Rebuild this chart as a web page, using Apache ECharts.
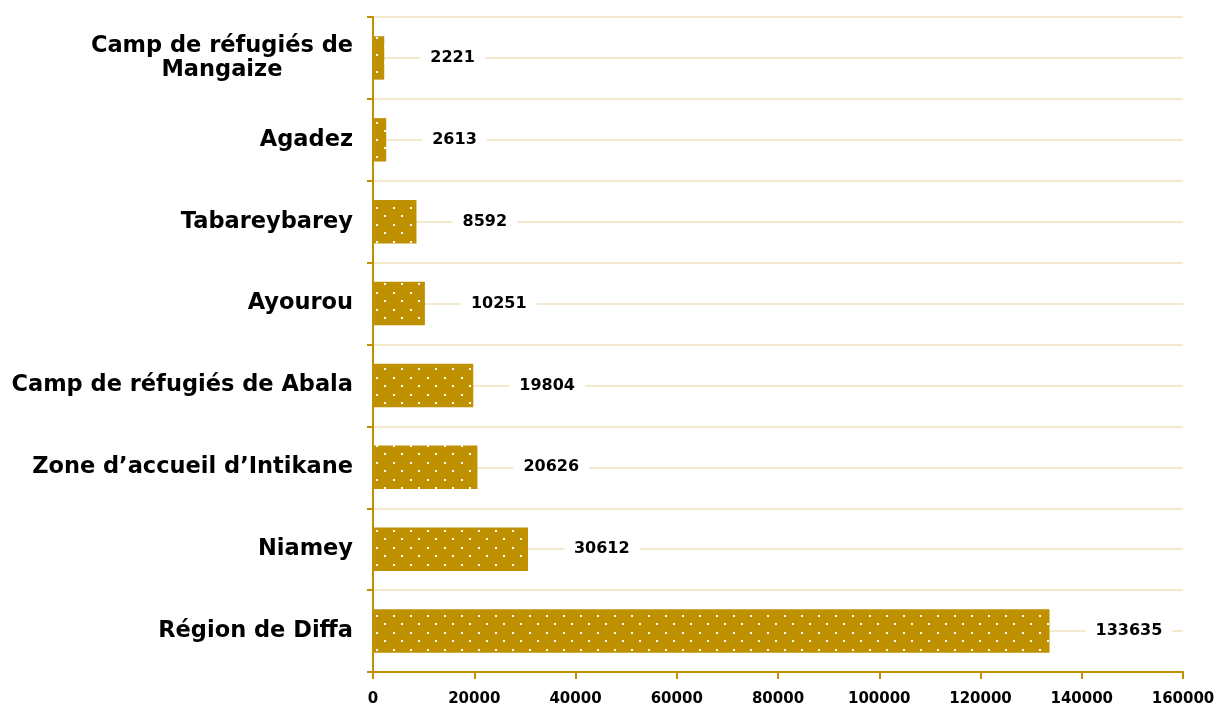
<!DOCTYPE html>
<html>
<head>
<meta charset="utf-8">
<script src="https://cdn.jsdelivr.net/npm/echarts@6/dist/echarts.min.js"></script>
<style>
  html, body { margin: 0; padding: 0; background: #fff; }
  #main { width: 1219px; height: 707px; }
</style>
</head>
<body>
<div id="main"></div>
<script>
// bottom to top, as the category axis draws them
var categories = [
    'Région de Diffa',
    'Niamey',
    'Zone d’accueil d’Intikane',
    'Camp de réfugiés de Abala',
    'Ayourou',
    'Tabareybarey',
    'Agadez',
    'Camp de réfugiés de\nMangaize'
];
var values = [133635, 30612, 20626, 19804, 10251, 8592, 2613, 2221];
var xTicks = { min: 0, max: 160000, interval: 20000 };

var gold = '#bf9000';
var cream = '#f3e9cc';

// gold fill with white staggered dots
function dotPattern() {
    var c = document.createElement('canvas');
    c.width = 17;
    c.height = 17;
    var ctx = c.getContext('2d');
    ctx.fillStyle = gold;
    ctx.fillRect(0, 0, 17, 17);
    ctx.fillStyle = '#ffffff';
    ctx.fillRect(2, 3, 2, 2);
    ctx.fillRect(10, 11, 2, 2);
    return c;
}

var labelFont = '"DejaVu Sans", sans-serif';

var chart = echarts.init(document.getElementById('main'));

var option = {
    animation: false,
    grid: {
        left: 373,
        right: 36,
        top: 17,
        bottom: 35
    },
    xAxis: {
        type: 'value',
        min: xTicks.min,
        max: xTicks.max,
        interval: xTicks.interval,
        axisLine: { show: true, lineStyle: { color: gold, width: 2 } },
        axisTick: { show: true, length: 7, lineStyle: { color: gold, width: 2 } },
        splitLine: { show: false },
        axisLabel: {
            color: '#000',
            fontFamily: labelFont,
            fontWeight: 'bold',
            fontSize: 15,
            margin: 20,
            formatter: function (v) { return String(v); }
        }
    },
    yAxis: {
        type: 'category',
        data: categories,
        axisLine: { show: true, lineStyle: { color: gold, width: 2 } },
        axisTick: { show: true, length: 6, lineStyle: { color: gold, width: 2 } },
        splitLine: { show: true, lineStyle: { color: cream, width: 2 } },
        axisLabel: {
            margin: 20,
            formatter: function (v) {
                var parts = v.split('\n');
                if (parts.length > 1) {
                    return '{a|' + parts[0] + '}\n{c|' + parts[1] + '}';
                }
                return '{a|' + v + '}';
            },
            rich: {
                a: {
                    color: '#000',
                    fontFamily: labelFont,
                    fontWeight: 'bold',
                    fontSize: 22.5,
                    lineHeight: 24
                },
                c: {
                    color: '#000',
                    fontFamily: labelFont,
                    fontWeight: 'bold',
                    fontSize: 22.5,
                    lineHeight: 24,
                    align: 'center'
                }
            }
        }
    },
    series: [{
        type: 'bar',
        data: values,
        barWidth: '53%',
        itemStyle: {
            color: { image: dotPattern(), repeat: 'repeat' }
        },
        label: {
            show: true,
            position: 'right',
            distance: 36,
            color: '#000',
            fontFamily: labelFont,
            fontWeight: 'bold',
            fontSize: 16,
            backgroundColor: '#fff',
            padding: [2, 10]
        },
        markLine: {
            silent: true,
            z: 1,
            symbol: ['none', 'none'],
            label: { show: false },
            lineStyle: { color: cream, width: 2, type: 'solid' },
            data: categories.map(function (c) { return { yAxis: c }; })
        }
    }]
};

chart.setOption(option);
</script>
</body>
</html>
